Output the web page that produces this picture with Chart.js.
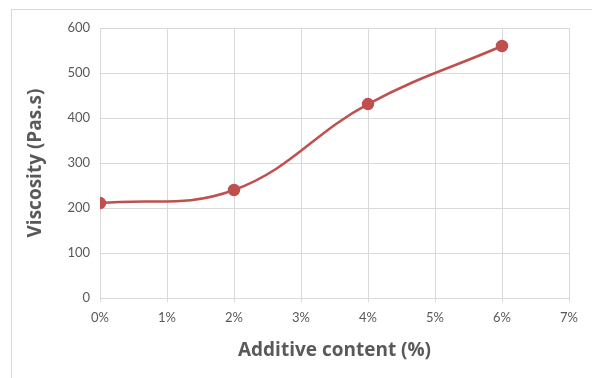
<!DOCTYPE html>
<html>
<head>
<meta charset="utf-8">
<script src="https://cdn.jsdelivr.net/npm/chart.js@4"></script>
<style>
  html, body { margin: 0; padding: 0; background: #fff; }
  #wrap { position: relative; width: 592px; height: 378px; overflow: hidden; }
  #frame { position: absolute; left: 11px; top: 9px; width: 700px; height: 500px; border: 1px solid #d9d9d9; box-sizing: border-box; }
  canvas { position: absolute; left: 0; top: 0; }
</style>
</head>
<body>
<div id="wrap">
  <div id="frame"></div>
  <canvas id="c" width="592" height="378"></canvas>
</div>
<script>
// Additive content (%) and measured viscosity (Pa.s)
const additivePct = [0, 2, 4, 6];
const viscosity = [211, 240, 431, 560];
const xTicks = [0, 1, 2, 3, 4, 5, 6, 7];
const yTicks = [0, 100, 200, 300, 400, 500, 600];

const points = additivePct.map((x, i) => ({ x: x, y: viscosity[i] }));
const grey = '#595959';
const gridCol = '#d9d9d9';
const tickFont = { family: 'Lato, "Open Sans", sans-serif', size: 13 };
const titleFont = { family: '"Open Sans", Lato, sans-serif', size: 19, weight: 'bold' };

new Chart(document.getElementById('c'), {
  type: 'line',
  data: {
    datasets: [{
      data: points,
      borderColor: '#c0504d',
      backgroundColor: '#c0504d',
      borderWidth: 2.5,
      pointRadius: 5,
      pointHoverRadius: 5,
      tension: 0.4,
      fill: false
    }]
  },
  options: {
    responsive: false,
    animation: false,
    devicePixelRatio: 1,
    layout: { padding: { left: 24, top: 28, right: 23, bottom: 16 } },
    plugins: { legend: { display: false }, tooltip: { enabled: false } },
    scales: {
      x: {
        type: 'linear',
        min: xTicks[0],
        max: xTicks[xTicks.length - 1],
        afterBuildTicks: s => { s.ticks = xTicks.map(v => ({ value: v })); },
        afterFit: s => { s.height = 64; },
        ticks: { color: grey, font: tickFont, padding: 8, callback: v => v + '%' },
        grid: { color: gridCol, drawTicks: true, tickLength: 4 },
        border: { color: gridCol },
        title: { display: true, text: 'Additive content (%)', color: grey, font: titleFont, padding: { top: 0, bottom: 0 } }
      },
      y: {
        min: yTicks[0],
        max: yTicks[yTicks.length - 1],
        afterBuildTicks: s => { s.ticks = yTicks.map(v => ({ value: v })); },
        afterFit: s => { s.width = 76; },
        ticks: { color: grey, font: tickFont, padding: 10 },
        grid: { color: gridCol, drawTicks: false },
        border: { color: gridCol },
        title: { display: true, text: 'Viscosity (Pas.s)', color: grey, font: titleFont, padding: { top: 0, bottom: 0 } }
      }
    }
  }
});
</script>
</body>
</html>
